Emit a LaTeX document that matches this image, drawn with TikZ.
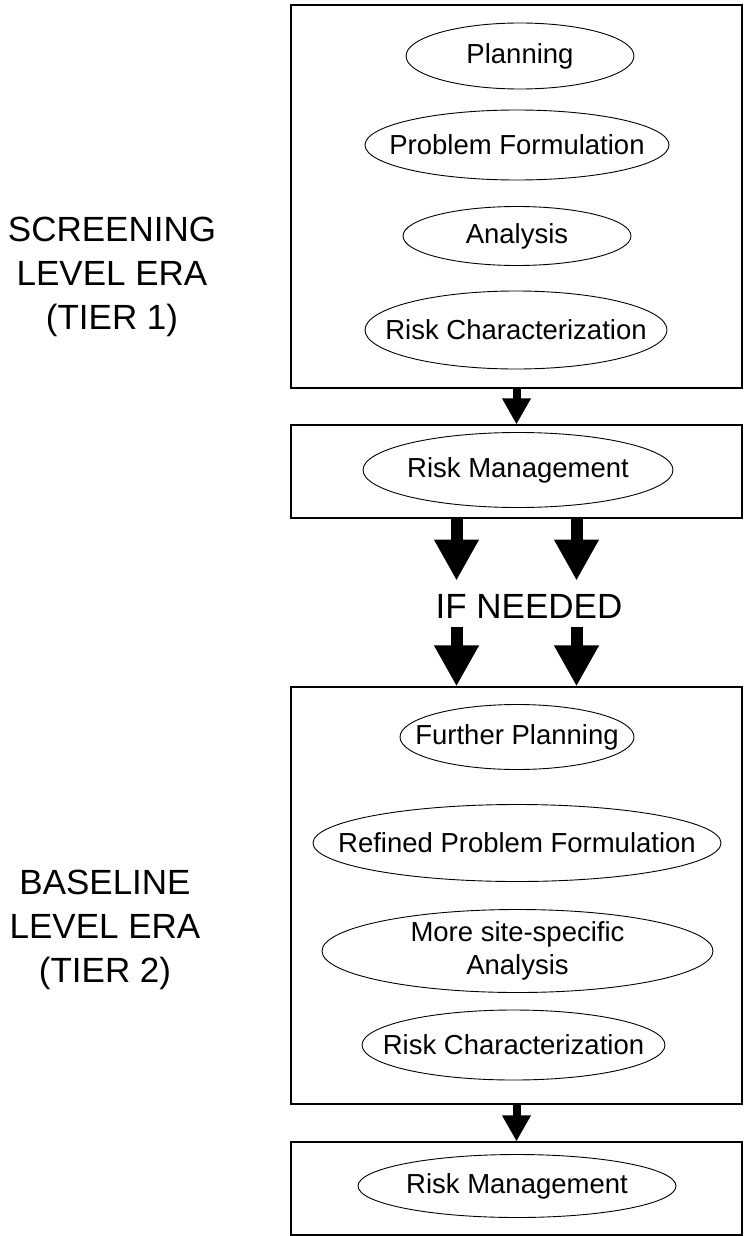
\documentclass[tikz,border=0pt]{standalone}
\usepackage{fontspec}
\setmainfont{Liberation Sans}
\usetikzlibrary{shapes.geometric,arrows.meta}
\begin{document}
\begin{tikzpicture}[x=1pt,y=-1pt,
  frame/.style={draw,line width=1.2pt,inner sep=0pt},
  oval/.style={draw,ellipse,line width=0.9pt,inner sep=0pt},
  otext/.style={font=\fontsize{27.5}{33}\selectfont,align=center,inner sep=0pt},
  side/.style={font=\fontsize{35}{44}\selectfont,align=center,inner sep=0pt},
  smallarrow/.style={line width=8pt,-{Triangle[width=27pt,length=26pt]}},
  bigarrow/.style={line width=12pt,-{Triangle[width=42pt,length=41pt]}}]
\useasboundingbox (0,0) rectangle (744,1236);
% boxes
\node[frame,minimum width=451,minimum height=383] (b1) at (516.5,196.5) {};
\node[frame,minimum width=451,minimum height=93] (b2) at (516.5,471.5) {};
\node[frame,minimum width=451,minimum height=417] (b3) at (516.5,895.5) {};
\node[frame,minimum width=451,minimum height=93] (b4) at (516.5,1188.5) {};
% ovals
\node[oval,minimum width=228,minimum height=66,label={[otext]center:Planning}] (p1) at (520,56) {};
\node[oval,minimum width=304,minimum height=70,label={[otext]center:Problem Formulation}] (pf1) at (517,145) {};
\node[oval,minimum width=228,minimum height=59,label={[otext]center:Analysis}] (a1) at (517,236) {};
\node[oval,minimum width=302,minimum height=78,label={[otext]center:Risk Characterization}] (rc1) at (516,330) {};
\node[oval,minimum width=310,minimum height=75,label={[otext]center:Risk Management}] (rm1) at (518,470) {};
\node[oval,minimum width=234,minimum height=65,label={[otext]center:Further Planning}] (p2) at (517,737) {};
\node[oval,minimum width=408,minimum height=77,label={[otext]center:Refined Problem Formulation}] (pf2) at (517,843) {};
\node[oval,minimum width=391,minimum height=83,label={[otext]center:More site-specific\\Analysis}] (a2) at (517.5,951) {};
\node[oval,minimum width=303,minimum height=70,label={[otext]center:Risk Characterization}] (rc2) at (513.5,1045) {};
\node[oval,minimum width=318,minimum height=63,label={[otext]center:Risk Management}] (rm2) at (517,1186) {};
% side texts
\node[side] (t1) at (112,276.5) {SCREENING\\LEVEL ERA\\(TIER 1)};
\node[side] (t2) at (105,930) {BASELINE\\LEVEL ERA\\(TIER 2)};
\node[font=\fontsize{35}{40}\selectfont,inner sep=0pt,anchor=base] (ifn) at (529,618) {IF NEEDED};
% small arrows
\draw[smallarrow] (b1.south) -- (b2.north);
\draw[smallarrow] (b3.south) -- (b4.north);
% big arrows
\draw[bigarrow] ([xshift=-60pt]b2.south) -- ([xshift=-60pt,yshift=-62pt]b2.south);
\draw[bigarrow] ([xshift=60pt]b2.south) -- ([xshift=60pt,yshift=-62pt]b2.south);
\draw[bigarrow] ([xshift=-60pt,yshift=59pt]b3.north) -- ([xshift=-60pt]b3.north);
\draw[bigarrow] ([xshift=60pt,yshift=59pt]b3.north) -- ([xshift=60pt]b3.north);
\end{tikzpicture}
\end{document}
